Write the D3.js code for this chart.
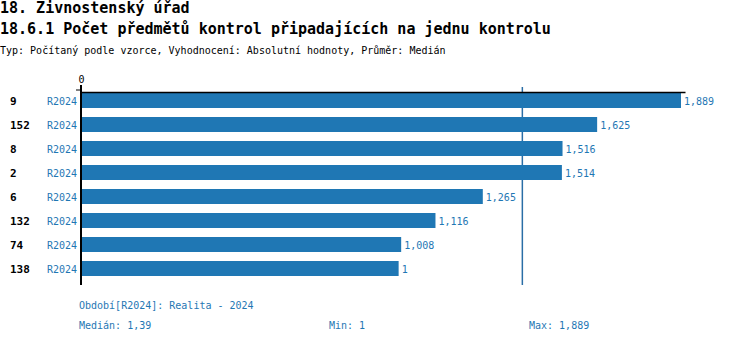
<!DOCTYPE html>
<html>
<head>
<meta charset="utf-8">
<script src="https://cdn.jsdelivr.net/npm/d3@7"></script>
<style>
  body { margin: 0; background: #fff; }
  svg text { font-family: "DejaVu Sans Mono", "Liberation Mono", monospace; }
</style>
</head>
<body>
<div id="chart"></div>
<script>
var svgWidth = 750;
var svgHeight = 344;

// data
var categories = ["9", "152", "8", "2", "6", "132", "74", "138"];
var periods = ["R2024", "R2024", "R2024", "R2024", "R2024", "R2024", "R2024", "R2024"];
var values = [1.889, 1.625, 1.516, 1.514, 1.265, 1.116, 1.008, 1];
var axisTicks = [0];

var titleMain = "18. Živnostenský úřad";
var titleSub = "18.6.1 Počet předmětů kontrol připadajících na jednu kontrolu";
var typeLine = "Typ: Počítaný podle vzorce, Vyhodnocení: Absolutní hodnoty, Průměr: Medián";
var periodLine = "Období[R2024]: Realita - 2024";

var margin = { left: 81, top: 88.5 };
var plotWidth = 600;

var blue = "#1f77b4";

// czech-ish number format: decimal comma
var cz = d3.formatLocale({ decimal: ",", thousands: " ", grouping: [3], currency: ["", " Kč"] });
var fmtVal = cz.format(".4~r");
var fmtMed = cz.format(".3~r");

var median = d3.median(values);
var minV = d3.min(values);
var maxV = d3.max(values);

var svg = d3.select("#chart")
  .append("svg")
  .attr("width", svgWidth)
  .attr("height", svgHeight);

// titles
svg.append("text")
  .attr("x", 0).attr("y", 13)
  .attr("font-size", "15px").attr("font-weight", "bold")
  .attr("fill", "#000")
  .text(titleMain);

svg.append("text")
  .attr("x", 0).attr("y", 34)
  .attr("font-size", "15px").attr("font-weight", "bold")
  .attr("fill", "#000")
  .text(titleSub);

svg.append("text")
  .attr("x", 0).attr("y", 54)
  .attr("font-size", "10px")
  .attr("fill", "#000")
  .text(typeLine);

// scales
var x = d3.scaleLinear()
  .domain([0, maxV])
  .range([0, plotWidth]);

var y = d3.scaleBand()
  .domain(d3.range(values.length))
  .range([margin.top, margin.top + values.length * 24])
  .paddingInner(0.375)
  .paddingOuter(0.1875);

var chartGroup = svg.append("g")
  .attr("transform", `translate(${margin.left}, 0)`);

// median line
chartGroup.append("line")
  .attr("x1", x(median)).attr("x2", x(median))
  .attr("y1", 87).attr("y2", 285)
  .attr("stroke", "#2a6ea6")
  .attr("stroke-width", 1.5);

// bars
chartGroup.selectAll("rect.bar")
  .data(values)
  .enter()
  .append("rect")
  .attr("class", "bar")
  .attr("x", 1)
  .attr("y", (d, i) => y(i))
  .attr("width", d => x(d) - 1)
  .attr("height", y.bandwidth())
  .attr("fill", blue);

// value labels
chartGroup.selectAll("text.val")
  .data(values)
  .enter()
  .append("text")
  .attr("class", "val")
  .attr("x", d => x(d) + 3)
  .attr("y", (d, i) => y(i) + y.bandwidth() / 2 + 4)
  .attr("font-size", "10px")
  .attr("fill", blue)
  .text(d => fmtVal(d));

// top axis
var topAxis = d3.axisTop(x.copy().range([0, plotWidth + 4]))
  .tickValues(axisTicks)
  .tickSize(6)
  .tickSizeOuter(0)
  .tickFormat(d3.format("d"));

var xAxis = chartGroup.append("g")
  .attr("transform", `translate(0, 92)`)
  .call(topAxis);
xAxis.select(".domain").attr("stroke", "#000").attr("stroke-width", 1.5);
xAxis.selectAll(".tick line").attr("stroke", "#000");
xAxis.selectAll(".tick text")
  .attr("font-family", "DejaVu Sans Mono, monospace")
  .attr("font-size", "10px")
  .attr("fill", "#000");

// left axis line
chartGroup.append("line")
  .attr("x1", 0).attr("x2", 0)
  .attr("y1", 85).attr("y2", 285)
  .attr("stroke", "#000")
  .attr("stroke-width", 2);
chartGroup.append("line")
  .attr("x1", -5).attr("x2", 0)
  .attr("y1", 90).attr("y2", 90)
  .attr("stroke", "#000")
  .attr("stroke-width", 1);

// category labels
svg.selectAll("text.cat")
  .data(categories)
  .enter()
  .append("text")
  .attr("class", "cat")
  .attr("x", 10)
  .attr("y", (d, i) => y(i) + y.bandwidth() / 2 + 4)
  .attr("font-size", "11px")
  .attr("font-weight", "bold")
  .attr("fill", "#000")
  .text(d => d);

svg.selectAll("text.per")
  .data(periods)
  .enter()
  .append("text")
  .attr("class", "per")
  .attr("x", 77)
  .attr("y", (d, i) => y(i) + y.bandwidth() / 2 + 4)
  .attr("text-anchor", "end")
  .attr("font-size", "10px")
  .attr("fill", blue)
  .text(d => d);

// footer
svg.append("text")
  .attr("x", 79).attr("y", 309)
  .attr("font-size", "10px")
  .attr("fill", blue)
  .text(periodLine);

var stats = [
  { x: 79, label: "Medián: " + fmtMed(median) },
  { x: 329, label: "Min: " + fmtVal(minV) },
  { x: 529, label: "Max: " + fmtVal(maxV) }
];
svg.selectAll("text.stat")
  .data(stats)
  .enter()
  .append("text")
  .attr("class", "stat")
  .attr("x", d => d.x)
  .attr("y", 329)
  .attr("font-size", "10px")
  .attr("fill", blue)
  .text(d => d.label);
</script>
</body>
</html>
